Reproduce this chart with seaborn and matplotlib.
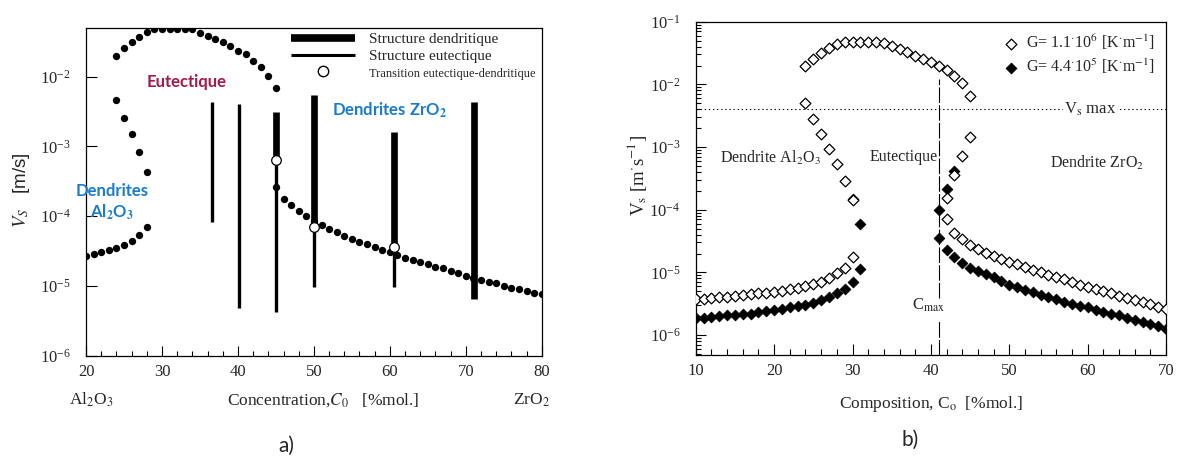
import numpy as np
import pandas as pd
import matplotlib
matplotlib.use("Agg")
import matplotlib.pyplot as plt
import seaborn as sns
from matplotlib.lines import Line2D
from matplotlib.ticker import LogLocator, MultipleLocator, NullLocator, NullFormatter, LogFormatterMathtext

sns.set_style("white")
plt.rcParams['font.family'] = ['Liberation Serif', 'DejaVu Serif']
plt.rcParams['mathtext.fontset'] = 'stix'
plt.rcParams['axes.edgecolor'] = 'black'
plt.rcParams['axes.linewidth'] = 0.9

# ---------------- panel a) data ----------------
# growth rate limits (dots)
a_eut_top_c = list(range(24, 46))
a_eut_top_v = [0.020, 0.026, 0.031, 0.0367, 0.044, 0.0483, 0.048, 0.048, 0.048, 0.048, 0.048,
               0.0428, 0.0387, 0.0347, 0.031, 0.0275, 0.0236, 0.0212, 0.017, 0.0139, 0.0103, 0.0068]
a_al_upper_c = [24, 25, 26, 27, 28]
a_al_upper_v = [0.0047, 0.0026, 0.0015, 8.4e-4, 4.35e-4]
a_al_lower_c = [20, 21, 22, 23, 24, 25, 26, 27, 28]
a_al_lower_v = [2.7e-5, 2.85e-5, 3.03e-5, 3.27e-5, 3.47e-5, 3.87e-5, 4.45e-5, 5.4e-5, 7.1e-5]
a_zr_c = list(range(45, 81))
a_zr_v = [2.65e-4, 1.75e-4, 1.43e-4, 1.2e-4, 1.02e-4, 8.4e-5, 7.5e-5, 6.6e-5, 5.9e-5, 5.25e-5,
          4.7e-5, 4.3e-5, 3.95e-5, 3.6e-5, 3.27e-5, 3.03e-5, 2.78e-5, 2.54e-5, 2.35e-5, 2.18e-5,
          2.04e-5, 1.89e-5, 1.79e-5, 1.66e-5, 1.52e-5, 1.40e-5, 1.31e-5, 1.22e-5, 1.15e-5, 1.09e-5,
          1.01e-5, 9.4e-6, 8.9e-6, 8.5e-6, 8.0e-6, 7.7e-6]

# experimental structures (vertical bars)
eut_c = [36.6, 40.1, 45, 50, 60.5]
eut_lo = [8.3e-5, 4.8e-6, 4.2e-6, 9.8e-6, 9.8e-6]
eut_hi = [4.4e-3, 4.0e-3, 6.4e-4, 6.9e-5, 3.6e-5]
dend_c = [45, 50, 60.5, 71.1]
dend_lo = [6.4e-4, 6.9e-5, 3.6e-5, 6.5e-6]
dend_hi = [3.15e-3, 5.5e-3, 1.63e-3, 4.4e-3]
trans_c = [45, 50, 60.5]
trans_v = [6.4e-4, 6.9e-5, 3.6e-5]

# ---------------- panel b) data ----------------
b_open_arc_c = list(range(24, 46))
b_open_arc_v = [0.0197, 0.0254, 0.0313, 0.0376, 0.0436, 0.048, 0.048, 0.048, 0.048, 0.048, 0.0463,
                0.0415, 0.0363, 0.0325, 0.0287, 0.0254, 0.0225, 0.020, 0.017, 0.0138, 0.0104, 0.0065]
b_open_al_hi_c = [24, 25, 26, 27, 28, 29, 30]
b_open_al_hi_v = [0.0050, 0.00277, 0.0016, 0.00093, 0.00054, 0.00029, 0.000144]
b_open_al_lo_c = list(range(10, 31))
b_open_al_lo_v = [3.7e-6, 3.8e-6, 3.9e-6, 4.0e-6, 4.1e-6, 4.2e-6, 4.3e-6, 4.45e-6, 4.6e-6, 4.75e-6,
                  4.9e-6, 5.1e-6, 5.35e-6, 5.65e-6, 6.0e-6, 6.5e-6, 7.1e-6, 8.0e-6, 9.6e-6, 1.16e-5, 1.74e-5]
b_open_zr_hi_c = [42, 43, 44, 45]
b_open_zr_hi_v = [1.56e-4, 3.6e-4, 7.3e-4, 1.43e-3]
b_open_zr_lo_c = list(range(42, 71))
b_open_zr_lo_v = [7.1e-5, 4.3e-5, 3.4e-5, 2.75e-5, 2.35e-5, 2.05e-5, 1.83e-5, 1.64e-5, 1.47e-5, 1.34e-5,
                  1.22e-5, 1.11e-5, 1.0e-5, 9.1e-6, 8.4e-6, 7.7e-6, 7.0e-6, 6.4e-6, 5.9e-6, 5.45e-6,
                  5.0e-6, 4.6e-6, 4.25e-6, 3.95e-6, 3.65e-6, 3.35e-6, 3.1e-6, 2.85e-6, 2.6e-6]

b_fill_al_hi_c = [30, 31]
b_fill_al_hi_v = [1.5e-4, 5.9e-5]
b_fill_al_lo_c = list(range(10, 32))
b_fill_al_lo_v = [1.85e-6, 1.9e-6, 1.95e-6, 2.0e-6, 2.05e-6, 2.1e-6, 2.15e-6, 2.2e-6, 2.3e-6, 2.4e-6,
                  2.5e-6, 2.6e-6, 2.75e-6, 2.9e-6, 3.05e-6, 3.3e-6, 3.6e-6, 4.0e-6, 4.6e-6, 5.35e-6,
                  6.9e-6, 1.13e-5]
b_fill_zr_hi_c = [41, 42, 43]
b_fill_zr_hi_v = [9.8e-5, 2.15e-4, 4.2e-4]
b_fill_zr_lo_c = list(range(41, 71))
b_fill_zr_lo_v = [3.6e-5, 2.25e-5, 1.75e-5, 1.4e-5, 1.18e-5, 1.05e-5, 9.4e-6, 8.4e-6, 7.3e-6, 6.4e-6,
                  5.8e-6, 5.3e-6, 4.8e-6, 4.4e-6, 4.05e-6, 3.7e-6, 3.4e-6, 3.15e-6, 2.95e-6, 2.75e-6,
                  2.55e-6, 2.35e-6, 2.2e-6, 2.05e-6, 1.9e-6, 1.75e-6, 1.62e-6, 1.5e-6, 1.38e-6, 1.27e-6]

vs_max = 4.06e-3
c_max = 41
c_max_line = [(0.0122, 3.9e-6), (1.7e-6, 4.8e-7)]

labels_b = [r'G= 1.1$^{\cdot}$10$^{6}$ [K$^{\cdot}$m$^{-1}$]',
            r'G= 4.4$^{\cdot}$10$^{5}$ [K$^{\cdot}$m$^{-1}$]']

df_a = pd.DataFrame({'C': a_eut_top_c + a_al_upper_c + a_al_lower_c + a_zr_c,
                     'Vs': a_eut_top_v + a_al_upper_v + a_al_lower_v + a_zr_v})
df_open = pd.DataFrame({'C': b_open_arc_c + b_open_al_hi_c + b_open_al_lo_c + b_open_zr_hi_c + b_open_zr_lo_c,
                        'Vs': b_open_arc_v + b_open_al_hi_v + b_open_al_lo_v + b_open_zr_hi_v + b_open_zr_lo_v})
df_fill = pd.DataFrame({'C': b_fill_al_hi_c + b_fill_al_lo_c + b_fill_zr_hi_c + b_fill_zr_lo_c,
                        'Vs': b_fill_al_hi_v + b_fill_al_lo_v + b_fill_zr_hi_v + b_fill_zr_lo_v})

fig = plt.figure(figsize=(11.77, 4.62), dpi=100)
ax_a = fig.add_axes([0.0731, 0.2301, 0.3872, 0.7093])
ax_b = fig.add_axes([0.5911, 0.2316, 0.3996, 0.7214])

# ---------------- panel a ----------------
ax_a.set_yscale('log')
ax_a.vlines(eut_c, eut_lo, eut_hi, color='black', lw=2.4)
ax_a.vlines(dend_c, dend_lo, dend_hi, color='black', lw=4.8)
sns.scatterplot(data=df_a, x='C', y='Vs', ax=ax_a, color='black', s=28, linewidth=0, legend=False, zorder=3)
sns.scatterplot(x=trans_c, y=trans_v, ax=ax_a, color='white', edgecolor='black', s=48,
                linewidth=0.9, legend=False, zorder=4)
ax_a.set_xlim(20, 80)
ax_a.set_ylim(1e-6, 0.05)
ax_a.xaxis.set_major_locator(MultipleLocator(10))
ax_a.xaxis.set_minor_locator(MultipleLocator(2))
ax_a.yaxis.set_major_locator(LogLocator(base=10, numticks=12))
ax_a.yaxis.set_minor_locator(NullLocator())
ax_a.yaxis.set_major_formatter(LogFormatterMathtext())
ax_a.tick_params(which='both', direction='in', bottom=True, left=True, top=False, right=False,
                 labelsize=12, width=0.8, color='black')
ax_a.tick_params(axis='x', which='major', length=7, pad=6)
ax_a.tick_params(axis='x', which='minor', length=3.5)
ax_a.tick_params(axis='y', which='major', length=8, pad=11)
ax_a.set_xlabel('')
ax_a.set_ylabel('')

ax_a.text(0.52, -0.135, r'Concentration,$C_0$   [%mol.]', transform=ax_a.transAxes,
          ha='center', va='center', fontsize=12.5)
ax_a.text(0.0125, -0.135, r'Al$_2$O$_3$', transform=ax_a.transAxes, ha='center', va='center', fontsize=12.5)
ax_a.text(0.978, -0.135, r'ZrO$_2$', transform=ax_a.transAxes, ha='center', va='center', fontsize=12.5)
ax_a.text(-0.141, 0.506, r'$V_S$   [m/s]', transform=ax_a.transAxes, rotation=90,
          ha='center', va='center', fontsize=13.5, family='Liberation Sans')

ax_a.text(33.2, 8.5e-3, 'Eutectique', color='#A31A4C', fontsize=12, fontweight='bold',
          family='Lato', ha='center', va='center')
ax_a.text(23.4, 2.3e-4, 'Dendrites', color='#1B7BCB', fontsize=12, fontweight='bold',
          family='Lato', ha='center', va='center')
ax_a.text(23.4, 1.15e-4, r'Al$_\mathbf{2}$O$_\mathbf{3}$', color='#1B7BCB', fontsize=12, fontweight='bold',
          family='Lato', ha='center', va='center')
ax_a.text(60, 3.25e-3, r'Dendrites ZrO$_\mathbf{2}$', color='#1B7BCB', fontsize=12, fontweight='bold',
          family='Lato', ha='center', va='center')

handles_a = [Line2D([], [], color='black', lw=5.5, solid_capstyle='butt'),
             Line2D([], [], color='black', lw=2.2, solid_capstyle='butt'),
             Line2D([], [], ls='none', marker='o', mfc='white', mec='black', ms=7.5)]
leg_a = ax_a.legend(handles_a, ['Structure dendritique', 'Structure eutectique',
                                'Transition eutectique-dendritique'],
                    loc='upper left', bbox_to_anchor=(0.44, 1.0), frameon=False, fontsize=11,
                    handlelength=4.2, handletextpad=0.9, labelspacing=0.2, borderaxespad=0, borderpad=0.3)
leg_a.get_texts()[2].set_fontsize(9)

# ---------------- panel b ----------------
ax_b.set_yscale('log')
ax_b.axhline(vs_max, color='black', lw=0.8, ls=(0, (1.2, 2.5)), zorder=1)
for top, bottom in c_max_line:
    ax_b.vlines(c_max, bottom, top, color='black', lw=0.8, ls=(0, (14, 2)), zorder=1)
sns.scatterplot(data=df_fill, x='C', y='Vs', ax=ax_b, marker='D', color='black', edgecolor='black',
                s=30, linewidth=0.6, label=labels_b[1], zorder=3)
sns.scatterplot(data=df_open, x='C', y='Vs', ax=ax_b, marker='D', color='white', edgecolor='black',
                s=30, linewidth=0.9, label=labels_b[0], zorder=4)
ax_b.set_xlim(10, 70)
ax_b.set_ylim(4.8e-7, 0.1)
ax_b.xaxis.set_major_locator(MultipleLocator(10))
ax_b.xaxis.set_minor_locator(MultipleLocator(2))
ax_b.yaxis.set_major_locator(LogLocator(base=10, numticks=12))
ax_b.yaxis.set_minor_locator(LogLocator(base=10, subs=np.arange(2, 10), numticks=12))
ax_b.yaxis.set_minor_formatter(NullFormatter())
ax_b.yaxis.set_major_formatter(LogFormatterMathtext())
ax_b.tick_params(which='both', direction='in', bottom=True, left=True, top=False, right=False,
                 labelsize=12, width=0.8, color='black')
ax_b.tick_params(axis='x', which='major', length=8, pad=6)
ax_b.tick_params(axis='x', which='minor', length=4)
ax_b.tick_params(axis='y', which='major', length=7, pad=11)
ax_b.tick_params(axis='y', which='minor', length=3.5)
ax_b.set_xlabel('')
ax_b.set_ylabel('')

ax_b.text(0.5, -0.148, r'Composition, C$_\mathrm{o}$  [%mol.]', transform=ax_b.transAxes,
          ha='center', va='center', fontsize=12.5)
ax_b.text(-0.125, 0.54, r'V$_\mathrm{s}$ [m$^{\cdot}$s$^{-1}$]', transform=ax_b.transAxes, rotation=90,
          ha='center', va='center', fontsize=13.5)
ax_b.text(13.1, 6.7e-4, r'Dendrite Al$_2$O$_3$', fontsize=11.5, ha='left', va='center')
ax_b.text(32.2, 7.0e-4, 'Eutectique', fontsize=11.5, ha='left', va='center')
ax_b.text(55.2, 5.5e-4, r'Dendrite ZrO$_2$', fontsize=11.5, ha='left', va='center')
ax_b.text(37.55, 3.0e-6, r'C$_\mathrm{max}$', fontsize=12, ha='left', va='center')
ax_b.text(57.0, vs_max, r'V$_\mathrm{s}$ max', fontsize=12, ha='left', va='center',
          bbox=dict(facecolor='white', edgecolor='none', pad=0.5), zorder=2)

h, l = ax_b.get_legend_handles_labels()
ax_b.legend(h[::-1], l[::-1], loc='upper right', bbox_to_anchor=(1.0, 1.0), frameon=False, fontsize=11.5,
            handlelength=0.8, handletextpad=0.5, labelspacing=0.3, borderaxespad=0.3)

fig.text(286 / 1177, 1 - 446 / 462, 'a)', fontsize=15, family='Lato', ha='center', va='center')
fig.text(910 / 1177, 1 - 440 / 462, 'b)', fontsize=15, family='Lato', ha='center', va='center')

fig.savefig('out.png', dpi=100, facecolor='white')
